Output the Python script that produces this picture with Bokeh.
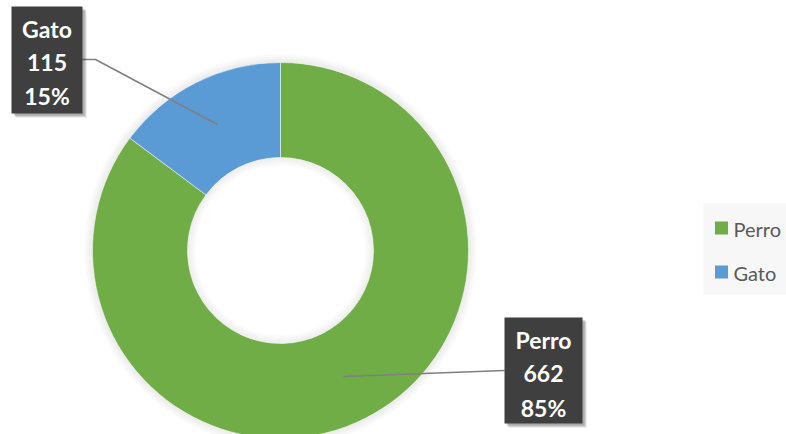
import numpy as np
from bokeh.plotting import figure
from bokeh.models import Range1d, ColumnDataSource
from bokeh.core.properties import value
from bokeh.embed import file_html
from bokeh.resources import INLINE

# ---- data ----
categories = ["Perro", "Gato"]
counts = [662, 115]
colors = ["#70AD47", "#5B9BD5"]

total = sum(counts)
pcts = [c / total for c in counts]
pct_labels = [f"{round(p * 100)}%" for p in pcts]

# screen-like coordinates: x = px, y = 434 - px
W, H = 786, 434
p = figure(width=W, height=H, output_backend="svg", toolbar_location=None,
           x_range=Range1d(0, 786), y_range=Range1d(0, 434),
           min_border=0, outline_line_color=None, background_fill_color="white")
p.axis.visible = False
p.grid.visible = False

cx, cy = 280, 434 - 250
r_out, r_in = 188, 93

# soft shadow around donut
for i in range(9):
    p.annulus(x=cx, y=cy, inner_radius=r_out + i, outer_radius=r_out + i + 1,
              fill_color="black", fill_alpha=0.08 * (9 - i) / 9, line_color=None)
    p.annulus(x=cx, y=cy, inner_radius=r_in - i - 1, outer_radius=r_in - i,
              fill_color="black", fill_alpha=0.07 * (9 - i) / 9, line_color=None)

# wedges: first slice starts at 12 o'clock, going clockwise
ends = []
starts = []
a = np.pi / 2
for pc in pcts:
    starts.append(a - pc * 2 * np.pi)
    ends.append(a)
    a = a - pc * 2 * np.pi
src = ColumnDataSource(dict(cat=categories, val=counts, start=starts, end=ends, color=colors))
p.annular_wedge(x=cx, y=cy, inner_radius=r_in, outer_radius=r_out,
                start_angle="start", end_angle="end", fill_color="color",
                line_color="white", line_width=0.5, source=src)

# leader lines
p.line(x=[82, 95, 217], y=[375, 375, 310], line_color="#7F7F7F", line_width=1.5)
p.line(x=[343, 504], y=[58, 64], line_color="#7F7F7F", line_width=1.5)

# label boxes
boxes = [
    dict(cx=46.5, cy=374.5, w=71, h=107, ty=[406, 372, 339], idx=1),
    dict(cx=543, cy=64, w=78, h=106, ty=[95, 61, 27], idx=0),
]
for b in boxes:
    for k in range(3):
        p.rect(x=b["cx"] + 2 + k, y=b["cy"] - 2 - k, width=b["w"], height=b["h"],
               fill_color="black", fill_alpha=0.12, line_color=None)
    p.rect(x=b["cx"], y=b["cy"], width=b["w"], height=b["h"],
           fill_color="#3F3F3F", line_color=None)
    i = b["idx"]
    lines = [categories[i], str(counts[i]), pct_labels[i]]
    p.text(x=[b["cx"]] * 3, y=b["ty"], text=lines, text_color="white",
           text_font=value("Lato"), text_font_style="bold", text_font_size="23px",
           text_align="center", text_baseline="middle")

# legend
p.rect(x=744.5, y=185.5, width=83, height=91, fill_color="#F7F7F7", line_color=None)
leg_y = [206.5, 162.5]
p.rect(x=[721, 721], y=leg_y, width=13, height=13, fill_color=colors, line_color=None)
p.text(x=[733, 733], y=[206, 162], text=categories, text_color="#595959",
       text_font=value("Lato"), text_font_size="20px",
       text_align="left", text_baseline="middle")

open("out.html", "w").write(file_html(p, INLINE))
